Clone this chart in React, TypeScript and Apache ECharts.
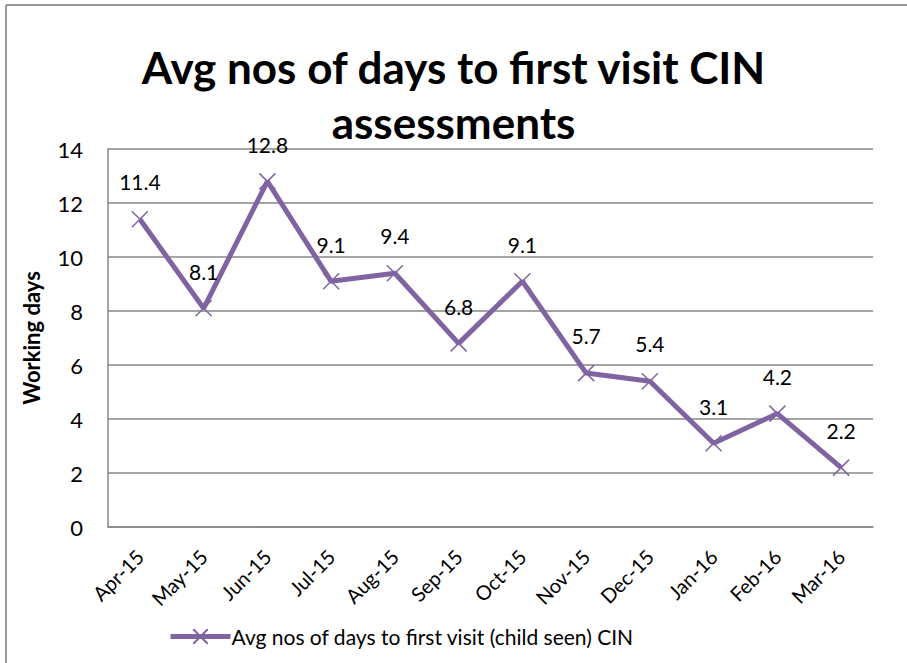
import React, { useEffect, useRef } from "react";
import * as echarts from "echarts";

const categories = ["Apr-15", "May-15", "Jun-15", "Jul-15", "Aug-15", "Sep-15", "Oct-15", "Nov-15", "Dec-15", "Jan-16", "Feb-16", "Mar-16"];
const values = [11.4, 8.1, 12.8, 9.1, 9.4, 6.8, 9.1, 5.7, 5.4, 3.1, 4.2, 2.2];
const seriesName = "Avg nos of days to first visit (child seen) CIN";
const titleText = "Avg nos of days to first visit CIN\nassessments";
const yAxisName = "Working days";

const FONT = "Lato, 'Open Sans', sans-serif";
const PURPLE = "#8064A2";

export default function App() {
  const ref = useRef<HTMLDivElement>(null);
  useEffect(() => {
    if (!ref.current) return;
    const chart = echarts.init(ref.current, null, { renderer: "svg" });
    chart.setOption({
      animation: false,
      backgroundColor: "#fff",
      textStyle: { fontFamily: FONT },
      title: {
        text: titleText,
        left: "center",
        top: 34,
        textStyle: { fontFamily: FONT, fontSize: 44, fontWeight: "bold", color: "#000", lineHeight: 55 },
      },
      graphic: [
        { type: "line", shape: { x1: 6, y1: 5, x2: 907, y2: 5 }, style: { stroke: "#999", lineWidth: 2 } },
        { type: "line", shape: { x1: 6, y1: 5, x2: 6, y2: 663 }, style: { stroke: "#999", lineWidth: 2 } },
      ],
      legend: {
        bottom: 11,
        left: 163,
        itemWidth: 60,
        itemHeight: 18,
        itemGap: 4,
        lineStyle: { width: 5 },
        textStyle: { fontFamily: FONT, fontSize: 21, color: "#000", padding: [0, 0, 0, -4] },
        data: [{ name: seriesName, lineStyle: { width: 5, color: PURPLE } }],
      },
      grid: { left: 108, right: 34, top: 149, bottom: 136 },
      xAxis: {
        type: "category",
        data: categories,
        boundaryGap: true,
        axisLine: { lineStyle: { color: "#868686", width: 1.5 } },
        axisTick: { show: false },
        axisLabel: { rotate: 45, fontSize: 20, color: "#000", fontFamily: FONT, margin: 26 },
      },
      yAxis: {
        type: "value",
        min: 0,
        max: 14,
        interval: 2,
        name: yAxisName,
        nameLocation: "middle",
        nameGap: 66,
        nameTextStyle: { fontFamily: FONT, fontSize: 22, fontWeight: "bold", color: "#000" },
        axisLine: { show: true, lineStyle: { color: "#868686", width: 1.5 } },
        axisTick: { show: false },
        splitLine: { lineStyle: { color: "#868686", width: 1.5 } },
        axisLabel: { fontSize: 22, color: "#000", fontFamily: FONT, margin: 25 },
      },
      series: [
        {
          name: seriesName,
          type: "line",
          data: values,
          symbol: "path://M0,0L10,10M10,0L0,10",
          symbolSize: 16,
          showAllSymbol: true,
          lineStyle: { color: PURPLE, width: 5 },
          itemStyle: { color: PURPLE, borderColor: PURPLE, borderWidth: 1.5 },
          label: {
            show: true,
            position: "top",
            distance: 18,
            fontSize: 21,
            color: "#000",
            fontFamily: FONT,
          },
        },
      ],
    });
    return () => chart.dispose();
  }, []);
  return <div ref={ref} style={{ position: "fixed", left: 0, top: 0, width: 907, height: 663 }} />;
}
